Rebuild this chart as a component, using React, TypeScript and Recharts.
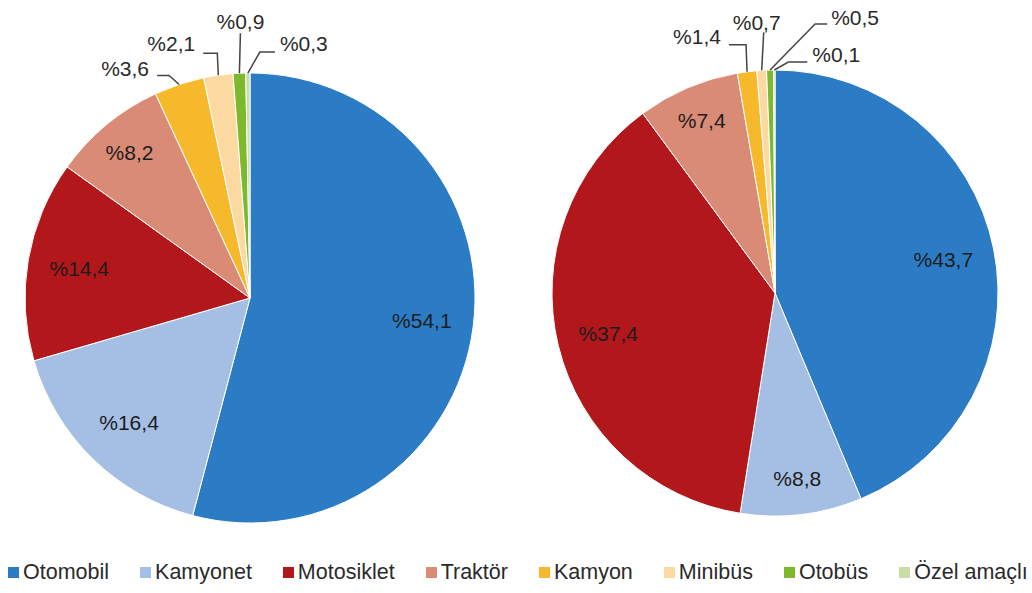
import React from "react";
import { PieChart, Pie, Cell, Legend } from "recharts";

const categories = ["Otomobil", "Kamyonet", "Motosiklet", "Traktör", "Kamyon", "Minibüs", "Otobüs", "Özel amaçlı"];
const leftValues = [54.1, 16.4, 14.4, 8.2, 3.6, 2.1, 0.9, 0.3];
const rightValues = [43.7, 8.8, 37.4, 7.4, 1.4, 0.7, 0.5, 0.1];
const colors = ["#2b7cc4", "#a5bfe4", "#b2171b", "#d98b76", "#f6b92b", "#fcd9a1", "#7db92c", "#c6dea3"];

// leader-line layout for outside labels (offsets from slice edge point)
const leftLabelLayout: Record<number, number[]> = {
  4: [-10, -9, -22, -9, -54, -16],
  5: [-1, -22, -15, -22, -47, -32],
  6: [1, -40, 1, -40, 1, -52],
  7: [12, -21, 27, -21, 56, -30],
};
const rightLabelLayout: Record<number, number[]> = {
  4: [-1, -27, -18, -27, -50, -35],
  5: [2, -38, 2, -38, -5, -48],
  6: [45, -46, 57, -46, 85, -53],
  7: [14, -8, 33, -8, 62, -16],
};

const leftData = categories.map((name, i) => ({ name, value: leftValues[i] }));
const rightData = categories.map((name, i) => ({ name, value: rightValues[i] }));

const RAD = Math.PI / 180;
const fmt = (v: number) => "%" + v.toFixed(1).replace(".", ",");
const FONT = "Liberation Sans, Arial, sans-serif";

const makeLabel = (layout: Record<number, number[]>) => (props: any) => {
  const { cx, cy, midAngle, outerRadius, index, value } = props;
  const cos = Math.cos(-midAngle * RAD);
  const sin = Math.sin(-midAngle * RAD);
  const lay = layout[index];
  if (!lay) {
    const f = value > 12 ? 0.77 : 0.84;
    const x = cx + outerRadius * f * cos;
    const y = cy + outerRadius * f * sin;
    return (
      <text x={x} y={y} textAnchor="middle" dominantBaseline="central" fontSize={21} fontFamily={FONT} fill="#1c1c1c">
        {fmt(value)}
      </text>
    );
  }
  const ex = cx + outerRadius * cos;
  const ey = cy + outerRadius * sin;
  const [bx, by, enx, eny, tx, ty] = lay;
  return (
    <g>
      <polyline
        points={`${ex},${ey} ${ex + bx},${ey + by} ${ex + enx},${ey + eny}`}
        fill="none"
        stroke="#444"
        strokeWidth={1.5}
      />
      <text x={ex + tx} y={ey + ty} textAnchor="middle" dominantBaseline="central" fontSize={21} fontFamily={FONT} fill="#2a2a2a">
        {fmt(value)}
      </text>
    </g>
  );
};

const LegendContent = () => (
  <div style={{ display: "flex", alignItems: "center", whiteSpace: "nowrap", fontFamily: FONT, fontSize: 21.5, color: "#2a2a2a" }}>
    {categories.map((c, i) => (
      <div key={c} style={{ display: "flex", alignItems: "center", marginRight: 31 }}>
        <span style={{ display: "inline-block", width: 11, height: 11, background: colors[i], marginRight: 4 }} />
        <span>{c}</span>
      </div>
    ))}
  </div>
);

export default function App() {
  return (
    <div style={{ width: 1032, height: 593, overflow: "hidden", position: "relative", background: "#fff" }}>
      <style>{`body{margin:0;overflow:hidden;}`}</style>
      <PieChart width={1032} height={593} margin={{ top: 0, right: 0, bottom: 0, left: 0 }}>
        <Pie
          data={leftData}
          dataKey="value"
          nameKey="name"
          cx={250}
          cy={298}
          outerRadius={225}
          startAngle={90}
          endAngle={-270}
          stroke="#fff"
          strokeWidth={1}
          labelLine={false}
          label={makeLabel(leftLabelLayout)}
          isAnimationActive={false}
        >
          {leftData.map((d, i) => (
            <Cell key={d.name} fill={colors[i]} />
          ))}
        </Pie>
        <Pie
          data={rightData}
          dataKey="value"
          nameKey="name"
          cx={775}
          cy={293}
          outerRadius={223}
          startAngle={90}
          endAngle={-270}
          stroke="#fff"
          strokeWidth={1}
          labelLine={false}
          label={makeLabel(rightLabelLayout)}
          isAnimationActive={false}
        >
          {rightData.map((d, i) => (
            <Cell key={d.name} fill={colors[i]} />
          ))}
        </Pie>
        <Legend content={<LegendContent />} wrapperStyle={{ position: "absolute", left: 8, top: 560, width: 1100 }} />
      </PieChart>
    </div>
  );
}
